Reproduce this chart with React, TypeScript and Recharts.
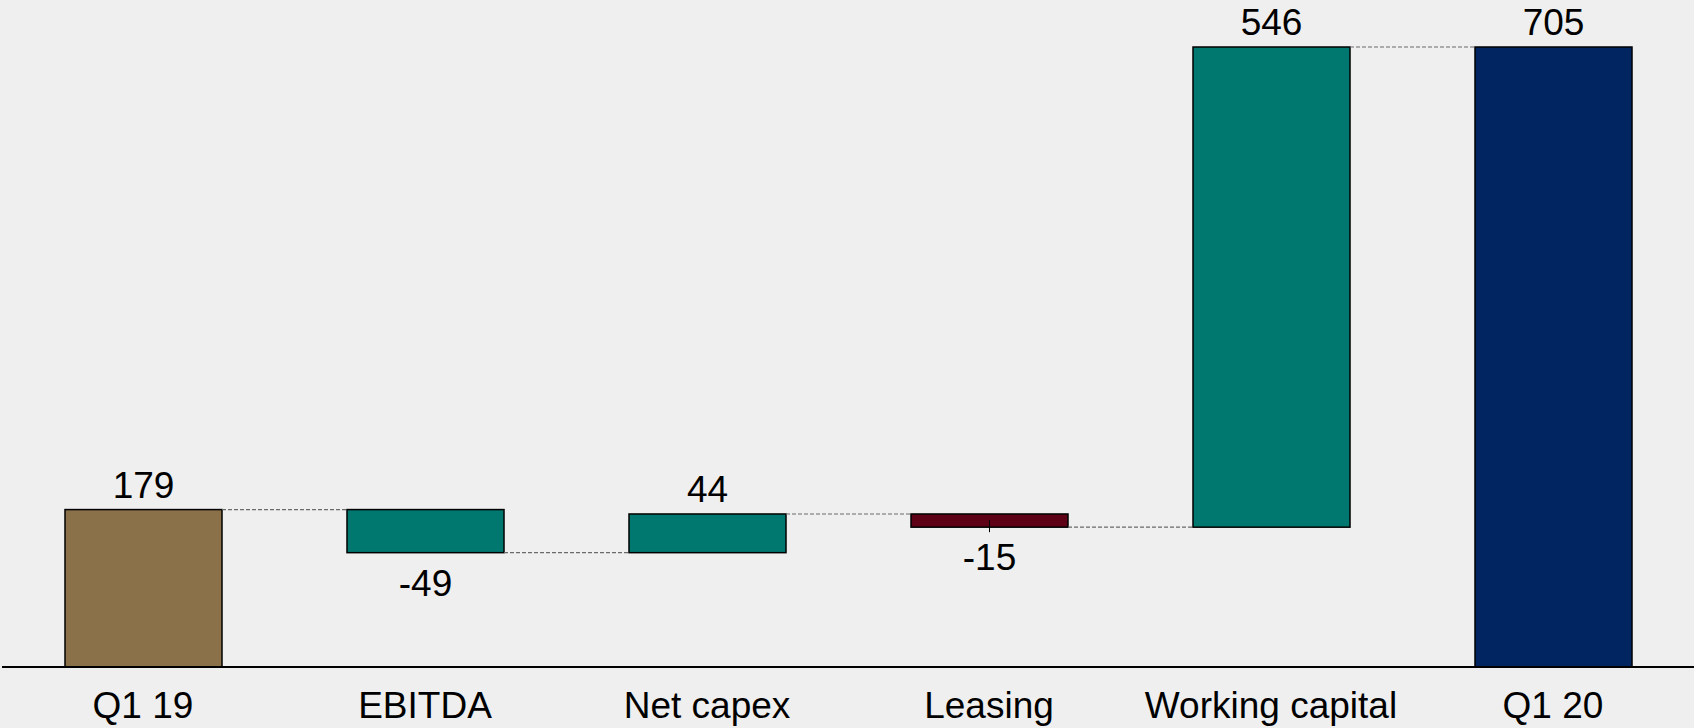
import React from 'react';
import { BarChart, Bar, XAxis, YAxis } from 'recharts';

const categories = ['Q1 19', 'EBITDA', 'Net capex', 'Leasing', 'Working capital', 'Q1 20'];
const changes = [179, -49, 44, -15, 546, 705];
const kinds = ['total', 'delta', 'delta', 'delta', 'delta', 'total'];
const barColors = ['#8A714A', '#00776F', '#00776F', '#5E0016', '#00776F', '#002561'];
const leaderTick = [false, false, false, true, false, false];

const W = 1694;
const H = 728;
const M_LEFT = 2;
const M_TOP = 47;
const AXIS_H = 61;
const BAR = 157;
const BAND = (W - M_LEFT) / categories.length;
const FONT = '"Liberation Sans", Arial, sans-serif';

let running = 0;
const data = categories.map((name, i) => {
  const v = changes[i];
  let base = 0;
  let size = 0;
  if (kinds[i] === 'total') {
    base = 0;
    size = v;
    running = v;
  } else {
    const start = running;
    const end = running + v;
    base = Math.min(start, end);
    size = Math.abs(v);
    running = end;
  }
  return {
    name,
    base,
    size,
    value: v,
    color: barColors[i],
    tick: leaderTick[i],
    last: i === categories.length - 1,
  };
});

const yMax = Math.max(...data.map((d) => d.base + d.size));

const WaterfallShape = (props: any) => {
  const { x, y, width, height, payload } = props;
  const p = payload || props;
  const levelY = p.value >= 0 ? y : y + height;
  const gap = BAND - width;
  const cx = x + width / 2;
  const ty = p.value >= 0 ? y - 12 : y + height + 43;
  return (
    <g>
      <rect x={x} y={y} width={width} height={height} fill={p.color} stroke="#000" strokeWidth={1.5} />
      {!p.last && (
        <line
          x1={x + width}
          x2={x + width + gap}
          y1={levelY}
          y2={levelY}
          stroke="#6a6a6a"
          strokeWidth={1.2}
          strokeDasharray="4 2"
        />
      )}
      {p.tick && (
        <line x1={cx} x2={cx} y1={y + height - 7} y2={y + height + 5} stroke="#000" strokeWidth={1} />
      )}
      <text x={cx} y={ty} textAnchor="middle" fontSize={37} fill="#000" fontFamily={FONT}>
        {p.value}
      </text>
    </g>
  );
};

const XTick = (props: any) => {
  const { x, y, payload } = props;
  return (
    <text x={x} y={y + 51} textAnchor="middle" fontSize={37} fill="#000" fontFamily={FONT}>
      {payload.value}
    </text>
  );
};

export default function App() {
  return (
    <div style={{ position: 'absolute', left: 0, top: 0, width: W, height: H, background: '#efefef' }}>
      <BarChart
        width={W}
        height={H}
        data={data}
        margin={{ top: M_TOP, right: 0, bottom: 0, left: M_LEFT }}
        barSize={BAR}
      >
        <YAxis hide domain={[0, yMax]} />
        <XAxis
          dataKey="name"
          height={AXIS_H}
          axisLine={{ stroke: '#000', strokeWidth: 2 }}
          tickLine={false}
          tickSize={0}
          tickMargin={0}
          interval={0}
          tick={<XTick />}
        />
        <Bar dataKey="base" stackId="a" fill="transparent" isAnimationActive={false} />
        <Bar dataKey="size" stackId="a" shape={<WaterfallShape />} isAnimationActive={false} />
      </BarChart>
    </div>
  );
}
